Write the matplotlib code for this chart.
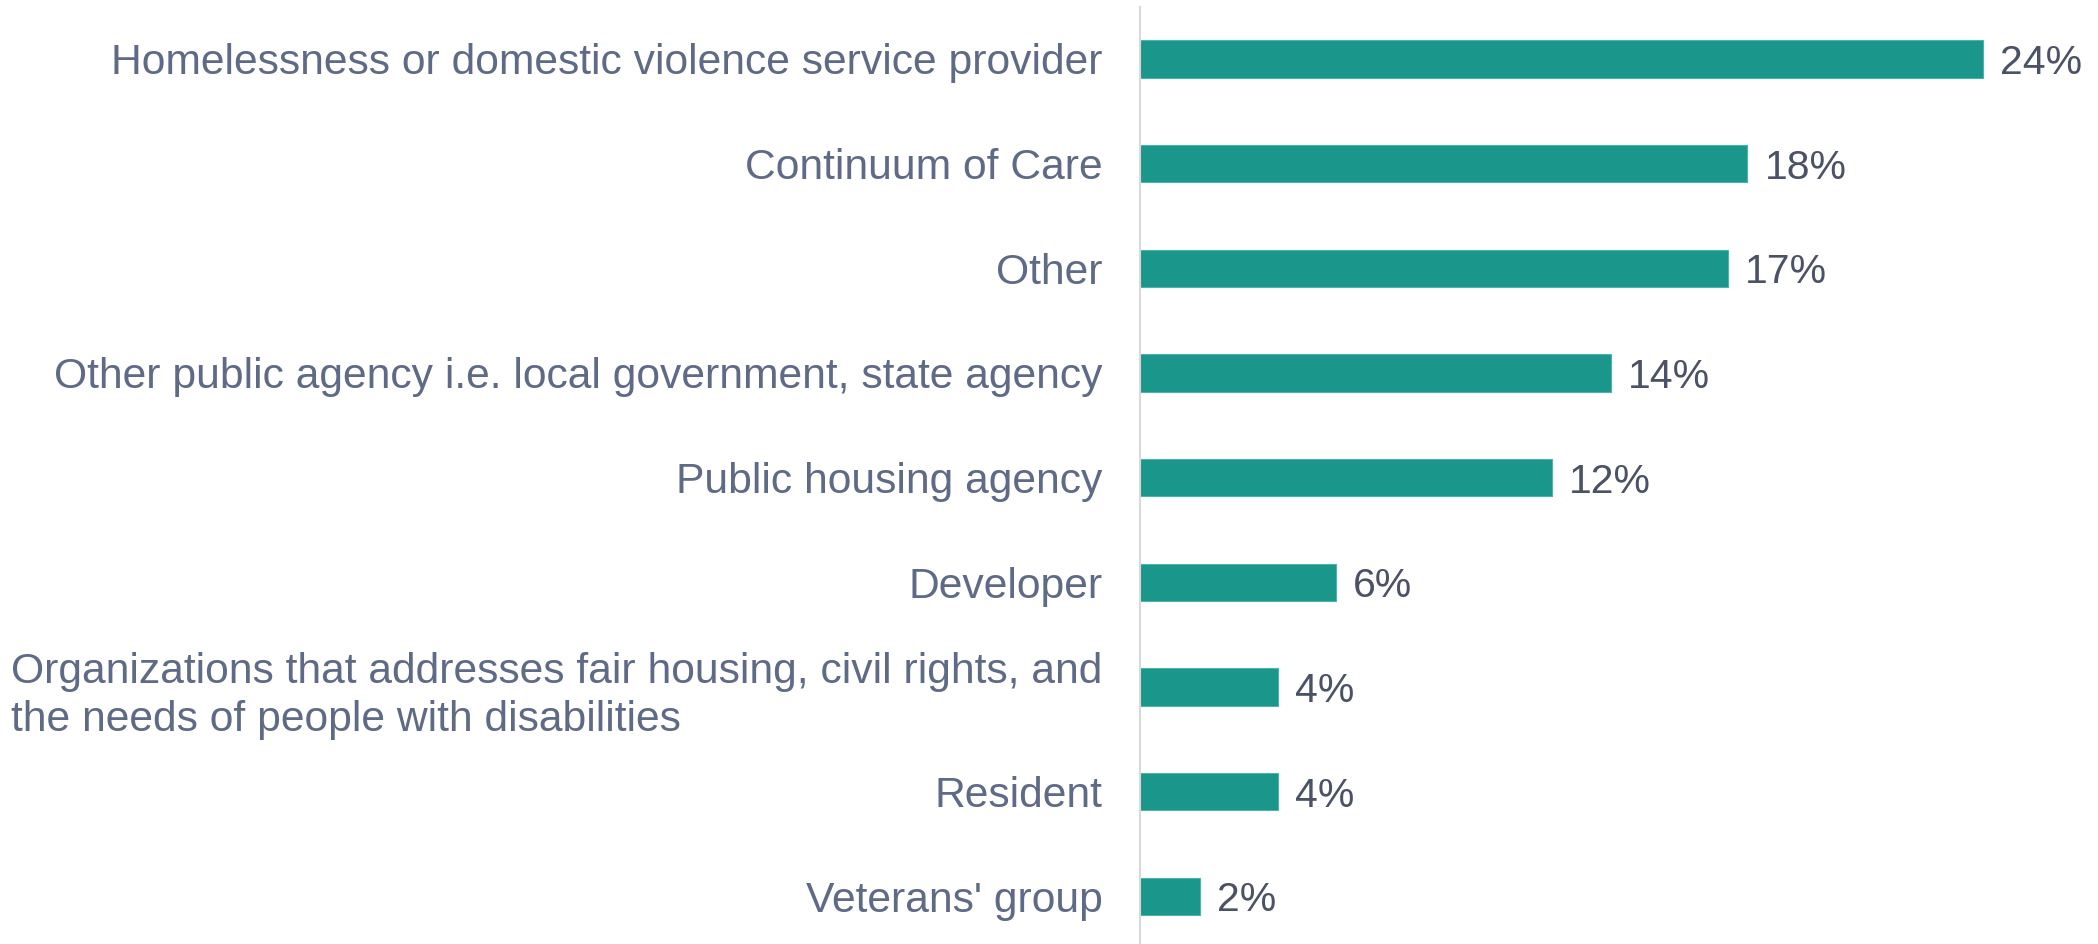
import matplotlib.pyplot as plt

# data
categories = [
    "Homelessness or domestic violence service provider",
    "Continuum of Care",
    "Other",
    "Other public agency i.e. local government, state agency",
    "Public housing agency",
    "Developer",
    "Organizations that addresses fair housing, civil rights, and\nthe needs of people with disabilities",
    "Resident",
    "Veterans' group",
]
shares = [24.37, 17.56, 17.0, 13.61, 11.90, 5.66, 3.98, 3.98, 1.72]

plt.rcParams["font.family"] = ["Liberation Sans", "DejaVu Sans"]

fig = plt.figure(figsize=(20.98, 9.44), dpi=100)
ax = fig.add_axes([0.5434, -0.005, 0.4566, 0.998])

y = range(len(categories))
ax.barh(y, shares, height=0.356, color="#1b968b", edgecolor="#4bb3aa", linewidth=0.8)

for yi, v in zip(y, shares):
    ax.text(v + 0.5, yi, f"{round(v)}%", va="center_baseline", ha="left",
            fontsize=29.5, color="#4b5266")

ax.set_yticks(list(y))
ax.set_yticklabels(categories, fontsize=30.7, color="#5f6a86", multialignment="left")
for lbl in ax.get_yticklabels():
    lbl.set_linespacing(1.28)
ax.tick_params(axis="y", length=0, pad=27)
ax.set_xticks([])
ax.set_ylim(8.5, -0.5)
ax.set_xlim(0, 27.7)

for side in ["top", "right", "bottom"]:
    ax.spines[side].set_visible(False)
ax.spines["left"].set_color("#d9d9d9")
ax.spines["left"].set_linewidth(1.5)

fig.savefig("out.png", dpi=100)
